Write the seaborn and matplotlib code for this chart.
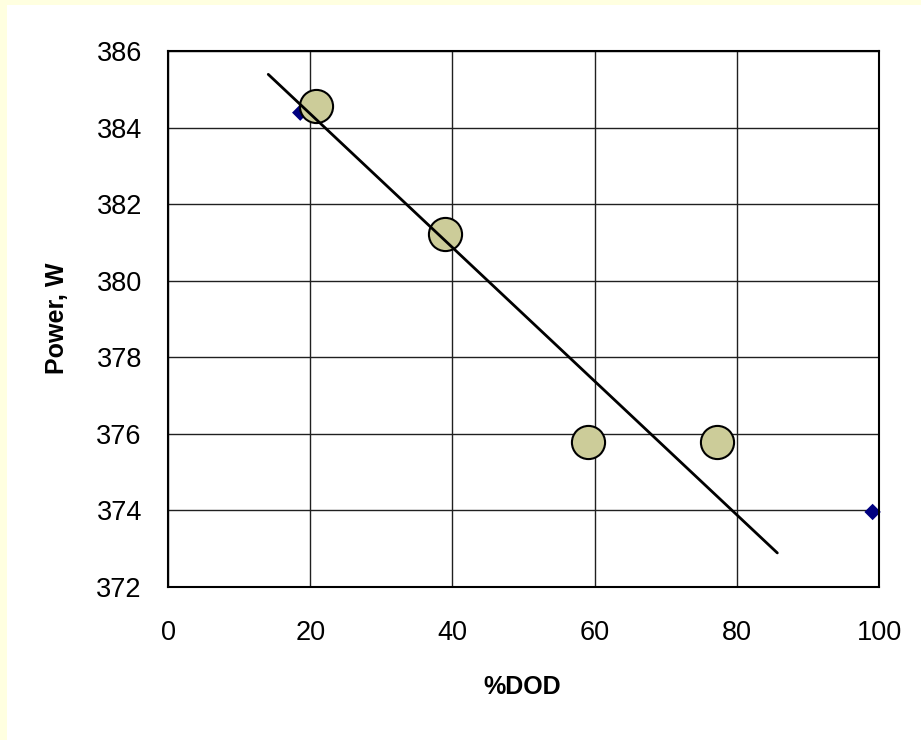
import matplotlib
matplotlib.use("Agg")
import matplotlib.pyplot as plt
import seaborn as sns
from pandas import DataFrame
from matplotlib.patches import Rectangle

# measured points (big circles)
dod = [20.8, 38.9, 59.1, 77.2]
power = [384.56, 381.21, 375.78, 375.78]
# small diamond markers
dod_small = [18.6, 99.1]
power_small = [384.39, 373.96]
# trend line end points
trend_x = [14.1, 85.7]
trend_y = [385.39, 372.89]

x_ticks = [0, 20, 40, 60, 80, 100]
y_ticks = [372, 374, 376, 378, 380, 382, 384, 386]

df = DataFrame({'%DOD': dod, 'Power, W': power})
df_small = DataFrame({'%DOD': dod_small, 'Power, W': power_small})
df_trend = DataFrame({'%DOD': trend_x, 'Power, W': trend_y})

sns.set_style("white")
plt.rcParams['font.family'] = ['Liberation Sans', 'DejaVu Sans']
plt.rcParams['text.color'] = 'black'
plt.rcParams['axes.labelcolor'] = 'black'

fig = plt.figure(figsize=(9.21, 7.4), dpi=100)
fig.patch.set_facecolor('white')
# yellow band along top and left edge
fig.patches.append(Rectangle((0, 0), 7 / 921, 1, transform=fig.transFigure,
                             facecolor='#FFFFE0', edgecolor='none', zorder=0))
fig.patches.append(Rectangle((0, 1 - 5 / 740), 1, 5 / 740, transform=fig.transFigure,
                             facecolor='#FFFFE0', edgecolor='none', zorder=0))

ax = fig.add_axes([168 / 921, 1 - 587 / 740, 711 / 921, 536 / 740])

sns.scatterplot(data=df_small, x='%DOD', y='Power, W', marker='D', s=70,
                color='#000080', edgecolor='none', ax=ax, zorder=2, clip_on=False)
sns.scatterplot(data=df, x='%DOD', y='Power, W', s=570, color='#CCCC99',
                edgecolor='black', linewidth=1.5, ax=ax, zorder=4)
sns.lineplot(data=df_trend, x='%DOD', y='Power, W', color='black', lw=2, ax=ax, zorder=5)

ax.set_xlim(0, 100)
ax.set_ylim(372, 386)
ax.set_xticks(x_ticks)
ax.set_yticks(y_ticks)
ax.grid(True, color='#202020', lw=1)
ax.set_axisbelow(True)
for s in ax.spines.values():
    s.set_color('black')
    s.set_linewidth(1.5)
    s.set_visible(True)

ax.tick_params(axis='both', direction='out', length=8, width=1.2, color='#808080',
               labelsize=19.5, labelcolor='black')
ax.tick_params(axis='y', pad=10.8)
ax.tick_params(axis='x', pad=16)

ax.set_xlabel('')
ax.set_ylabel('')
ax.text(522 / 921, 1 - 686.5 / 740, '%DOD', transform=fig.transFigure, fontsize=18,
        fontweight='bold', ha='center', va='center')
ax.text(57 / 921, 1 - 318 / 740, 'Power, W', transform=fig.transFigure, fontsize=18,
        fontweight='bold', ha='center', va='center', rotation=90)

fig.savefig("out.png", dpi=100)
